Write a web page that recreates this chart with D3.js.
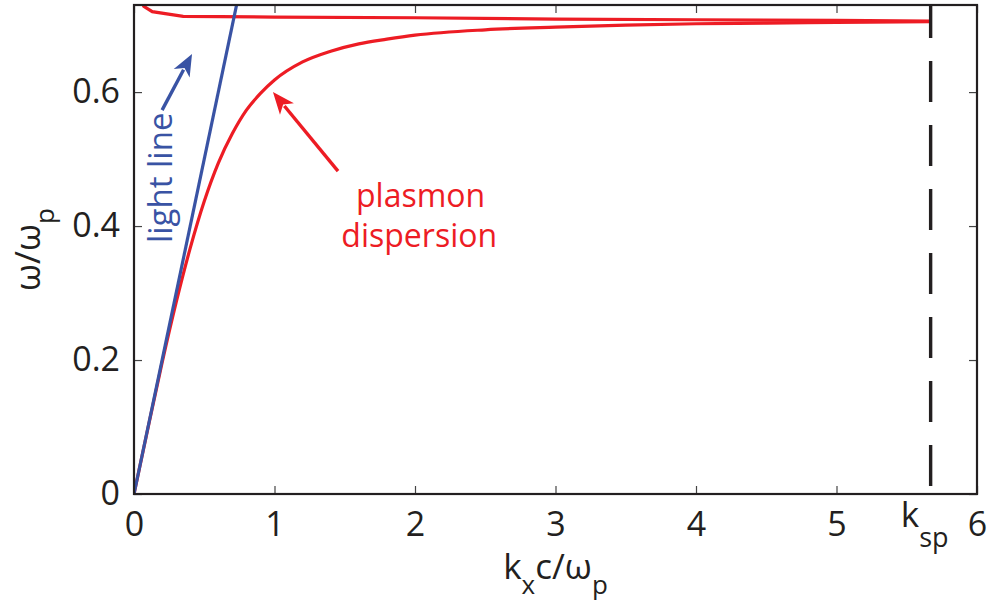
<!DOCTYPE html>
<html>
<head>
<meta charset="utf-8">
<script src="https://cdn.jsdelivr.net/npm/d3@7"></script>
<style>
  body { margin: 0; background: #fff; }
  svg { font-family: 'Open Sans', sans-serif; }
</style>
</head>
<body>
<svg id="chart" width="990" height="604"></svg>
<script>
// tick values
const xTicks = [0, 1, 2, 3, 4, 5, 6]
const yTicks = [0, 0.2, 0.4, 0.6]

// light line  w = c k
const lightK = [0, 0.75]
const lightW = [0, 0.75]

// surface plasmon dispersion, lower branch
const plasmonK = [0, 0.1, 0.2, 0.3, 0.4, 0.5, 0.6, 0.7, 0.8, 0.9, 1.0, 1.2, 1.4, 1.6, 1.8, 2.0, 2.5, 3.0, 3.5, 4.0, 4.5, 5.0, 5.67]
const plasmonW = [0, 0.099, 0.196, 0.286, 0.367, 0.437, 0.494, 0.538, 0.573, 0.598, 0.618, 0.645, 0.661, 0.672, 0.679, 0.685, 0.693, 0.697, 0.700, 0.702, 0.703, 0.704, 0.705]

// upper red branch near the top edge
const upperK = [0.04, 0.07, 0.13, 0.35, 1.0, 2.0, 3.0, 4.0, 5.0, 5.67]
const upperW = [0.74, 0.728, 0.720, 0.713, 0.712, 0.711, 0.709, 0.708, 0.707, 0.706]

// surface plasmon wavevector
const kSp = 5.67

const RED = '#ed1c24'
const BLUE = '#3953a4'
const INK = '#231f20'

drawChart()

function drawChart() {
    const svg = d3.select('#chart')
    const margin = { top: 5, right: 13, bottom: 110, left: 134 }
    const width = 990, height = 604
    const innerW = width - margin.left - margin.right
    const innerH = height - margin.top - margin.bottom

    const x = d3.scaleLinear().domain([0, 6]).range([0, innerW])
    const y = d3.scaleLinear().domain([0, 0.73]).range([innerH, 0])

    const g = svg.append('g')
        .attr('transform', `translate(${margin.left},${margin.top})`)

    svg.append('defs').append('clipPath').attr('id', 'plot-clip')
        .append('rect').attr('width', innerW).attr('height', innerH)

    // ticks inside the box on all four sides
    const tickLen = 8
    const axisStyle = sel => {
        sel.select('.domain').remove()
        sel.selectAll('.tick line').attr('stroke', '#444').attr('stroke-width', 1.2)
        sel.selectAll('.tick text').attr('fill', INK)
            .style('font-size', '34px').style('font-family', "'Open Sans', sans-serif")
    }

    g.append('g')
        .attr('transform', `translate(0,${innerH})`)
        .call(d3.axisBottom(x).tickValues(xTicks).tickFormat(d3.format('d'))
            .tickSizeInner(-tickLen).tickSizeOuter(0).tickPadding(18))
        .call(axisStyle)

    g.append('g')
        .call(d3.axisLeft(y).tickValues(yTicks).tickFormat(d => d === 0 ? '0' : d3.format('.1f')(d))
            .tickSizeInner(-tickLen).tickSizeOuter(0).tickPadding(14))
        .call(axisStyle)

    g.append('g')
        .call(d3.axisTop(x).tickValues(xTicks).tickFormat('').tickSizeInner(-tickLen).tickSizeOuter(0))
        .call(axisStyle)

    g.append('g')
        .attr('transform', `translate(${innerW},0)`)
        .call(d3.axisRight(y).tickValues(yTicks).tickFormat('').tickSizeInner(-tickLen).tickSizeOuter(0))
        .call(axisStyle)

    // curves
    const plot = g.append('g').attr('clip-path', 'url(#plot-clip)')
    const line = d3.line().x(d => x(d[0])).y(d => y(d[1]))

    plot.append('path')
        .datum(d3.zip(upperK, upperW))
        .attr('d', line)
        .attr('fill', 'none').attr('stroke', RED).attr('stroke-width', 3.2)

    plot.append('path')
        .datum(d3.zip(plasmonK, plasmonW))
        .attr('d', line.curve(d3.curveMonotoneX))
        .attr('fill', 'none').attr('stroke', RED).attr('stroke-width', 3.2)

    plot.append('path')
        .datum(d3.zip(lightK, lightW))
        .attr('d', d3.line().x(d => x(d[0])).y(d => y(d[1])))
        .attr('fill', 'none').attr('stroke', BLUE).attr('stroke-width', 3.2)

    // k_sp dashed marker
    plot.append('line')
        .attr('x1', x(kSp)).attr('x2', x(kSp))
        .attr('y1', y(0.73)).attr('y2', y(0))
        .attr('stroke', INK).attr('stroke-width', 3.4)
        .attr('stroke-dasharray', '41,23').attr('stroke-dashoffset', 8)

    // frame
    g.append('rect')
        .attr('width', innerW).attr('height', innerH)
        .attr('fill', 'none').attr('stroke', INK).attr('stroke-width', 2.2)

    // k_sp tick label
    const ksp = g.append('text')
        .attr('x', x(kSp) - 6).attr('y', innerH + 33)
        .attr('text-anchor', 'middle').attr('fill', INK)
        .style('font-size', '35px')
    ksp.append('tspan').text('k')
    ksp.append('tspan').attr('dy', 20).style('font-size', '27px').text('sp')

    // axis labels
    const xl = svg.append('text')
        .attr('x', margin.left + innerW / 2).attr('y', 579)
        .attr('text-anchor', 'middle').attr('fill', INK)
        .style('font-size', '35px')
    xl.append('tspan').text('k')
    xl.append('tspan').attr('dy', 15).style('font-size', '26px').text('x')
    xl.append('tspan').attr('dy', -15).text('c/ω')
    xl.append('tspan').attr('dy', 15).style('font-size', '26px').text('p')

    const yl = svg.append('text')
        .attr('transform', `translate(40,${margin.top + innerH / 2}) rotate(-90)`)
        .attr('text-anchor', 'middle').attr('fill', INK)
        .style('font-size', '35px')
    yl.append('tspan').text('ω/ω')
    yl.append('tspan').attr('dy', 14).style('font-size', '26px').text('p')

    // annotations
    const arrow = (from, to, color) => {
        const x0 = x(from[0]), y0 = y(from[1]), x1 = x(to[0]), y1 = y(to[1])
        const ang = Math.atan2(y1 - y0, x1 - x0)
        const headL = 22, headW = 9
        const bx = x1 - headL * Math.cos(ang), by = y1 - headL * Math.sin(ang)
        g.append('line')
            .attr('x1', x0).attr('y1', y0)
            .attr('x2', bx + 4 * Math.cos(ang)).attr('y2', by + 4 * Math.sin(ang))
            .attr('stroke', color).attr('stroke-width', 3.4)
        const nx = -Math.sin(ang), ny = Math.cos(ang)
        const inset = 6
        g.append('path')
            .attr('d', `M${x1},${y1} L${bx + nx * headW},${by + ny * headW} ` +
                `L${bx + inset * Math.cos(ang)},${by + inset * Math.sin(ang)} ` +
                `L${bx - nx * headW},${by - ny * headW} Z`)
            .attr('fill', color)
    }

    arrow([0.2, 0.573], [0.413, 0.657], BLUE)
    arrow([1.452, 0.482], [0.989, 0.600], RED)

    g.append('text')
        .attr('transform', `translate(${x(0.27)},${y(0.472)}) rotate(-90)`)
        .attr('text-anchor', 'middle').attr('fill', BLUE)
        .style('font-size', '33px')
        .text('light line')

    g.append('text')
        .attr('x', x(2.04)).attr('y', y(0.428))
        .attr('text-anchor', 'middle').attr('fill', RED)
        .style('font-size', '32px')
        .text('plasmon')

    g.append('text')
        .attr('x', x(2.03)).attr('y', y(0.369))
        .attr('text-anchor', 'middle').attr('fill', RED)
        .style('font-size', '32px')
        .text('dispersion')
}
</script>
</body>
</html>
